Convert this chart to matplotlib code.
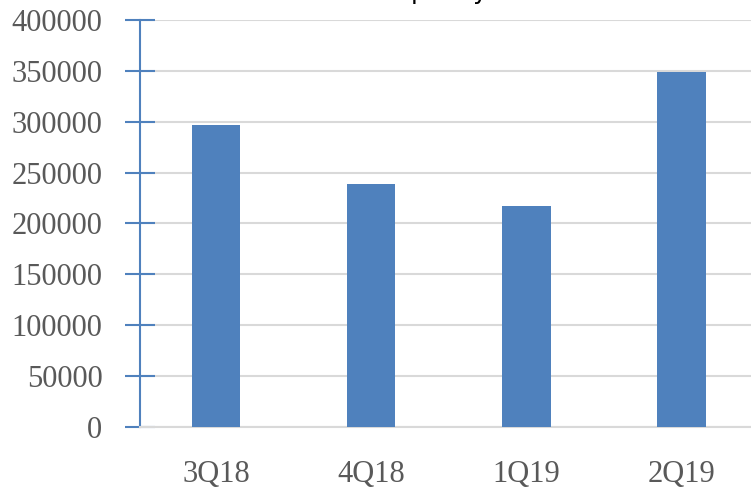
import matplotlib
matplotlib.use("Agg")
import matplotlib.pyplot as plt

categories = ["3Q18", "4Q18", "1Q19", "2Q19"]
values = [297000, 239000, 217000, 349000]
yticks = [0, 50000, 100000, 150000, 200000, 250000, 300000, 350000, 400000]
title = "the past year"

bar_color = "#4F81BD"
grid_color = "#D9D9D9"
text_color = "#595959"

fig = plt.figure(figsize=(7.51, 4.88), dpi=100)
W, H = 751, 488
ax = fig.add_axes([140 / W, (H - 427) / H, (W - 140) / W, 407 / H])

x = list(range(len(categories)))
ax.bar(x, values, width=0.315, color=bar_color, zorder=3)
ax.set_xlim(-0.49, 3.45)
ax.set_ylim(0, 400000)
ax.set_yticks(yticks)
ax.set_yticklabels([str(v) for v in yticks])
ax.set_xticks(x)
ax.set_xticklabels(categories)

ax.yaxis.grid(True, color=grid_color, linewidth=1.5, zorder=0)
ax.set_axisbelow(True)
for s in ["top", "right"]:
    ax.spines[s].set_visible(False)
ax.spines["left"].set_color(bar_color)
ax.spines["left"].set_linewidth(1.5)
ax.spines["bottom"].set_color(grid_color)
ax.spines["bottom"].set_linewidth(1.5)

ax.tick_params(axis="y", direction="inout", length=22, width=1.5, color=bar_color,
               labelsize=22, labelcolor=text_color, pad=16)
ax.tick_params(axis="x", length=0, labelsize=22, labelcolor=text_color, pad=24)
for lab in ax.get_yticklabels() + ax.get_xticklabels():
    lab.set_fontfamily("Liberation Serif")

fig.text(445 / W, 1 + 1 / H, title, ha="center", va="baseline", fontsize=18,
         color="black", family="DejaVu Sans")

fig.savefig("out.png", dpi=100)
